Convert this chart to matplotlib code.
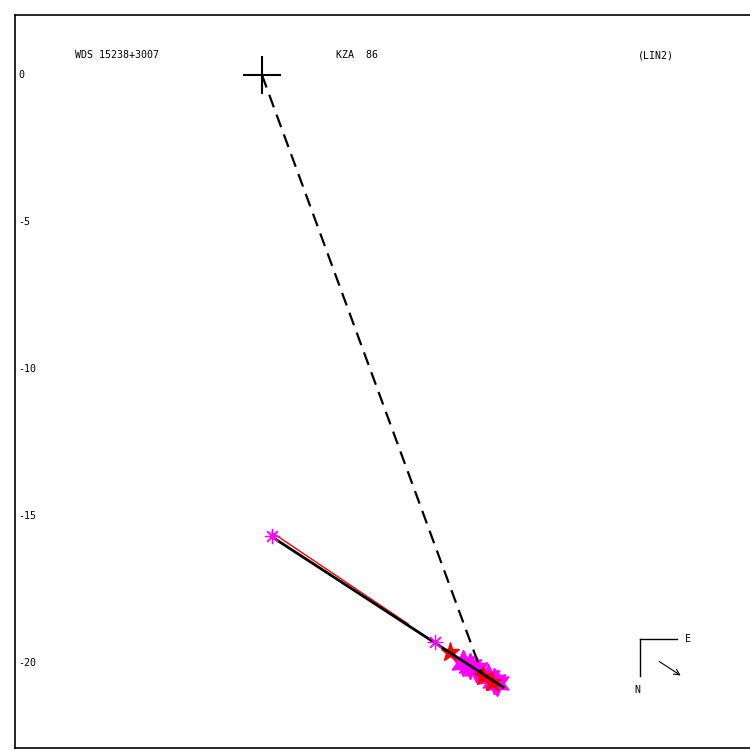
import matplotlib
matplotlib.use('Agg')
import matplotlib.pyplot as plt

# positions in arcsec (x right, y up as drawn)
primary = (0.0, 0.0)
predicted = (7.48, -20.34)
line_start = (0.34, -15.71)
line_end = (8.20, -20.82)
red_start = (0.34, -15.56)
red_end = (4.97, -18.67)
ast_x = [0.34, 5.88]
ast_y = [-15.68, -19.29]
star_x = [6.39, 7.52, 7.82]
star_y = [-19.63, -20.44, -20.65]
blob_x = [6.84, 7.07, 7.28, 7.69, 7.89, 7.99]
blob_y = [-20.00, -20.10, -20.20, -20.48, -20.61, -20.68]
yticks = [0, -5, -10, -15, -20]
header = ['WDS 15238+3007', 'KZA  86', '(LIN2)']

fig = plt.figure(figsize=(7.5, 7.5), dpi=100)
ax = fig.add_axes([15 / 750, 2 / 750, 1.0, 733 / 750])
ax.set_xlim(-8.40, -8.40 + 750 / 29.4)
ax.set_ylim(-22.89, 2.04)
ax.set_xticks([])
ax.set_yticks([])
for s in ax.spines.values():
    s.set_linewidth(1.2)

mono = 'DejaVu Sans Mono'

ax.plot(blob_x, blob_y, ls='none', marker=(6, 1, 0), ms=19, color='magenta')
ax.plot(star_x, star_y, ls='none', marker='*', ms=14, color='red')
ax.plot([red_start[0], red_end[0]], [red_start[1], red_end[1]], color='red', lw=1.0)
ax.plot([primary[0], predicted[0]], [primary[1], predicted[1]], color='black',
        lw=1.6, dashes=(6, 3.5))
ax.plot([line_start[0], line_end[0]], [line_start[1], line_end[1]], color='black', lw=2.0)
ax.plot(ast_x, ast_y, ls='none', marker=(8, 2, 0), ms=11, mew=0.9, color='magenta')
ax.plot(*primary, marker='+', ms=27, mew=1.5, color='black')

for v in yticks:
    ax.text(-8.30, v, str(v), fontsize=7.2, family=mono, va='center', ha='left')

for x, t in zip([75, 336, 638], header):
    ax.text(x / 750, 1 - 55 / 750, t, transform=fig.transFigure, fontsize=7.2,
            family=mono, va='center', ha='left')

# compass
def fpt(px, py):
    return (px / 750, 1 - py / 750)

fig.add_artist(plt.Line2D([fpt(640, 0)[0], fpt(640, 0)[0]], [fpt(0, 639)[1], fpt(0, 676)[1]],
                          color='black', lw=1))
fig.add_artist(plt.Line2D([fpt(640, 0)[0], fpt(677, 0)[0]], [fpt(0, 639)[1], fpt(0, 639)[1]],
                          color='black', lw=1))
fig.text(*fpt(685, 639), 'E', fontsize=7.2, family=mono, va='center', ha='left')
fig.text(*fpt(637, 690), 'N', fontsize=7.2, family=mono, va='center', ha='center')
ax.annotate('', xy=fpt(683, 677), xytext=fpt(657, 660), xycoords='figure fraction',
            textcoords='figure fraction',
            arrowprops=dict(arrowstyle='->', color='black', lw=0.8))

fig.savefig('out.png', dpi=100)
